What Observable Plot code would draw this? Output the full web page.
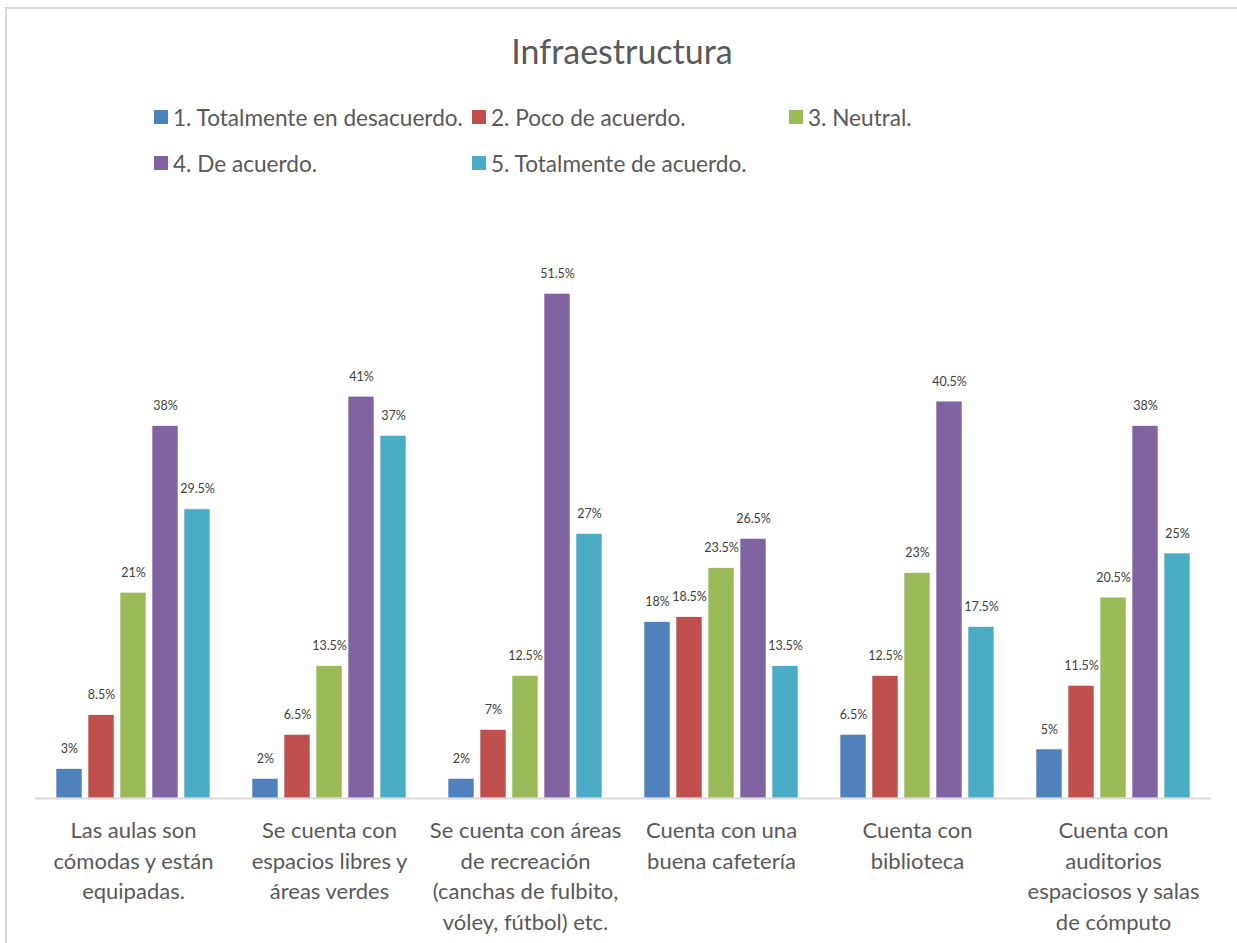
<!DOCTYPE html>
<html>
<head>
<meta charset="utf-8">
<script src="https://cdn.jsdelivr.net/npm/d3@7"></script>
<script src="https://cdn.jsdelivr.net/npm/@observablehq/plot@0.6"></script>
<style>
  html, body { margin: 0; padding: 0; background: #fff; }
  body { width: 1237px; height: 943px; position: relative; overflow: hidden; font-family: Lato, "Open Sans", sans-serif; }
  #frame { position: absolute; left: 5px; top: 7px; width: 1300px; height: 1000px; border-left: 2px solid #d9d9d9; border-top: 2px solid #d9d9d9; box-sizing: border-box; }
  #title { position: absolute; left: 0; width: 1244px; top: 34px; text-align: center; font-size: 34px; line-height: 1; color: #595959; }
  .leg { position: absolute; height: 30px; display: flex; align-items: center; font-size: 22.6px; color: #595959; white-space: nowrap; }
  .sw { width: 14px; height: 14px; margin-right: 5px; flex: none; }
  #chart { position: absolute; left: 0; top: 190px; }
</style>
</head>
<body>
<div id="frame"></div>
<div id="title">Infraestructura</div>
<div id="legend"></div>
<div id="chart"></div>
<script>
const categories = [
  "Las aulas son\ncómodas y están\nequipadas.",
  "Se cuenta con\nespacios libres y\náreas verdes",
  "Se cuenta con áreas\nde recreación\n(canchas de fulbito,\nvóley, fútbol) etc.",
  "Cuenta con una\nbuena cafetería",
  "Cuenta con\nbiblioteca",
  "Cuenta con\nauditorios\nespaciosos y salas\nde cómputo"
];
const series = [
  "1. Totalmente en desacuerdo.",
  "2. Poco de acuerdo.",
  "3. Neutral.",
  "4. De acuerdo.",
  "5. Totalmente de acuerdo."
];
const colors = ["#4F81BD", "#C0504D", "#9BBB59", "#8064A2", "#4BACC6"];
const totalmenteDesacuerdo = [3, 2, 2, 18, 6.5, 5];
const pocoDeAcuerdo = [8.5, 6.5, 7, 18.5, 12.5, 11.5];
const neutral = [21, 13.5, 12.5, 23.5, 23, 20.5];
const deAcuerdo = [38, 41, 51.5, 26.5, 40.5, 38];
const totalmenteDeAcuerdo = [29.5, 37, 27, 13.5, 17.5, 25];
const seriesValues = [totalmenteDesacuerdo, pocoDeAcuerdo, neutral, deAcuerdo, totalmenteDeAcuerdo];

const data = [];
categories.forEach((c, i) => {
  series.forEach((s, j) => {
    data.push({category: c, series: s, value: seriesValues[j][i]});
  });
});

// Legend (two rows, three columns)
const legendPos = [[154, 102], [472, 102], [789, 102], [154, 148], [472, 148]];
const legend = document.getElementById("legend");
series.forEach((s, j) => {
  const el = document.createElement("div");
  el.className = "leg";
  el.style.left = legendPos[j][0] + "px";
  el.style.top = legendPos[j][1] + "px";
  el.innerHTML = `<span class="sw" style="background:${colors[j]}"></span><span>${s}</span>`;
  legend.appendChild(el);
});

const chart = Plot.plot({
  width: 1237,
  height: 753,
  marginLeft: 35,
  marginRight: 26,
  marginTop: 20,
  marginBottom: 145,
  style: {fontFamily: "Lato, 'Open Sans', sans-serif", background: "transparent"},
  fx: {domain: categories, padding: 0, label: null},
  x: {domain: series, axis: null, paddingInner: 0.2, paddingOuter: 0.606},
  y: {domain: [0, 60], axis: null},
  color: {domain: series, range: colors},
  marks: [
    Plot.barY(data, {fx: "category", x: "series", y: "value", fill: "series", stroke: "white", strokeWidth: 0.6}),
    Plot.ruleY([0], {stroke: "#d9d9d9", strokeWidth: 2}),
    Plot.text(data, {fx: "category", x: "series", y: "value", text: d => d.value + "%", dy: -20, fontSize: 12.5, fill: "#404040"}),
    Plot.axisFx({anchor: "bottom", tickSize: 0, tickPadding: 18, fontSize: 22, lineHeight: 1.39, fill: "#595959", label: null})
  ]
});
document.getElementById("chart").appendChild(chart);
</script>
</body>
</html>
